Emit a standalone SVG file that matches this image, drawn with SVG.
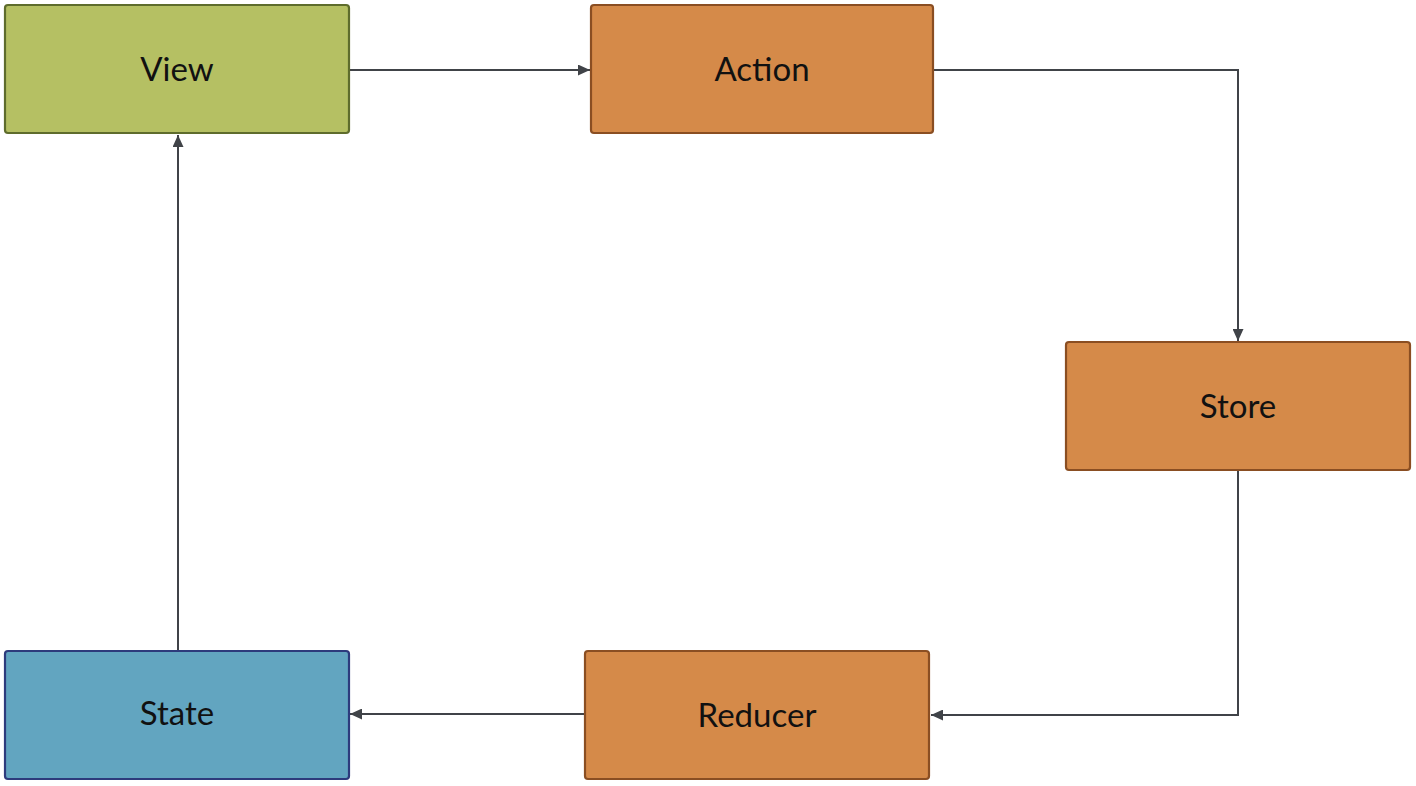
<svg xmlns="http://www.w3.org/2000/svg" width="1416" height="786" viewBox="0 0 1416 786">
<style>
.box{stroke-width:2.2}
.green{fill:#b5c063;stroke:#5e6c2c}
.orange{fill:#d58a49;stroke:#8a4e22}
.blue{fill:#62a5c0;stroke:#2d3b7c}
.lbl{font-family:"Lato","Open Sans","Liberation Sans",sans-serif;font-size:33px;fill:#111;text-anchor:middle;dominant-baseline:central}
.conn{fill:none;stroke:#404348;stroke-width:2}
</style>
<defs>
<marker id="arr" viewBox="0 0 12 11" refX="12" refY="5.5" markerWidth="12" markerHeight="11" markerUnits="userSpaceOnUse" orient="auto">
<path d="M0,0 L12,5.5 L0,11 z" fill="#404348"/>
</marker>
</defs>
<rect width="1416" height="786" fill="#fff"/>
<g id="connectors">
<path class="conn" d="M350,70 H590" marker-end="url(#arr)"/>
<path class="conn" d="M934,70 H1238 V341" marker-end="url(#arr)"/>
<path class="conn" d="M1238,471 V715 H931" marker-end="url(#arr)"/>
<path class="conn" d="M585,714 H350" marker-end="url(#arr)"/>
<path class="conn" d="M178,651 V135" marker-end="url(#arr)"/>
</g>
<g id="view">
<rect class="box green" x="5" y="5" width="344" height="128" rx="3"/>
<text class="lbl" x="177" y="68">View</text>
</g>
<g id="action">
<rect class="box orange" x="591" y="5" width="342" height="128" rx="3"/>
<text class="lbl" x="762" y="68">Action</text>
</g>
<g id="store">
<rect class="box orange" x="1066" y="342" width="344" height="128" rx="3"/>
<text class="lbl" x="1238" y="405">Store</text>
</g>
<g id="reducer">
<rect class="box orange" x="585" y="651" width="344" height="128" rx="3"/>
<text class="lbl" x="757" y="714">Reducer</text>
</g>
<g id="state">
<rect class="box blue" x="5" y="651" width="344" height="128" rx="3"/>
<text class="lbl" x="177" y="712">State</text>
</g>
</svg>
